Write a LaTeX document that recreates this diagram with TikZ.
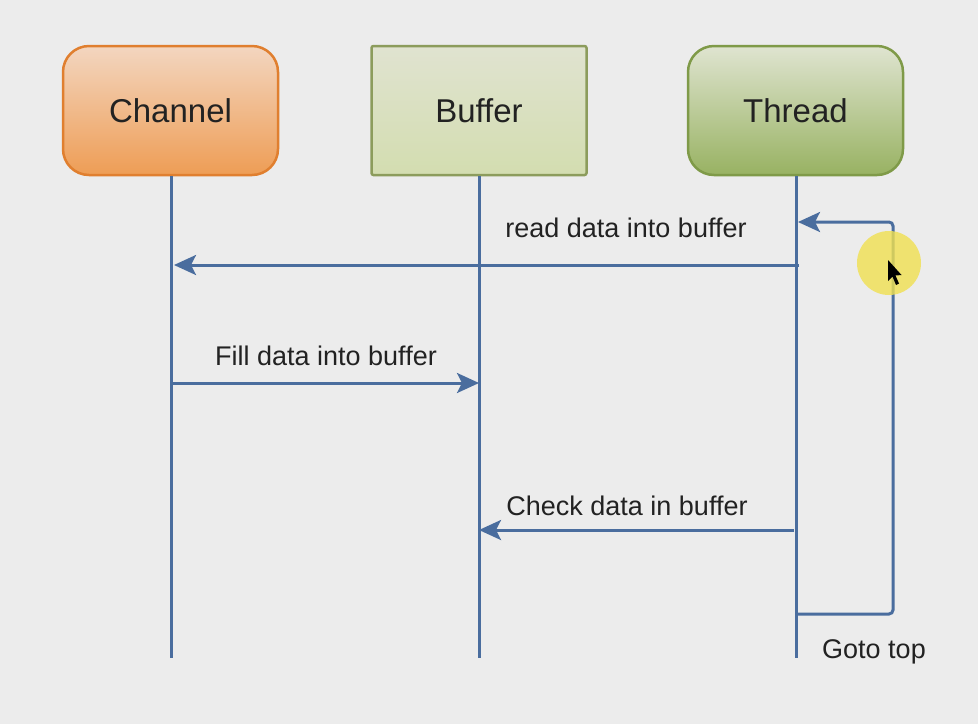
\documentclass[tikz,border=0pt]{standalone}
\usepackage{fontspec}
\setmainfont{Liberation Sans}
\usetikzlibrary{arrows.meta}

\definecolor{bg}{HTML}{ECECEC}
\definecolor{flow}{HTML}{4A6D9E}
\definecolor{txt}{HTML}{222222}
\definecolor{orangeTop}{HTML}{F3D6C0}
\definecolor{orangeBot}{HTML}{EE9D55}
\definecolor{orangeLine}{HTML}{E07F2F}
\definecolor{bufTop}{HTML}{E0E3D0}
\definecolor{bufBot}{HTML}{D3DDB0}
\definecolor{bufLine}{HTML}{8C9C5C}
\definecolor{thrTop}{HTML}{DFE4D0}
\definecolor{thrBot}{HTML}{98B262}
\definecolor{thrLine}{HTML}{7F9A48}
\definecolor{hilite}{HTML}{F0E050}

\tikzset{
  header/.style={minimum width=215pt, minimum height=129pt, line width=2.5pt,
    text=txt, font=\fontsize{33}{38}\selectfont, inner sep=0pt},
  lifeline/.style={draw=flow, line width=3pt},
  message/.style={draw=flow, line width=3pt,
    -{Stealth[length=22pt, width=20pt, inset=5pt]}},
  msglabel/.style={text=txt, font=\fontsize{27}{32}\selectfont, inner sep=0pt},
}

\begin{document}
\begin{tikzpicture}[x=1pt, y=-1pt]
  \fill[bg] (0,0) rectangle (978,724);
  \useasboundingbox (0,0) rectangle (978,724);

  % participant headers
  \node[header, rounded corners=26pt, draw=orangeLine, top color=orangeTop, bottom color=orangeBot]
    (channel) at (170.5,110.5) {Channel};
  \node[header, rounded corners=2pt, draw=bufLine, top color=bufTop, bottom color=bufBot]
    (buffer) at (479,110.5) {Buffer};
  \node[header, rounded corners=26pt, draw=thrLine, top color=thrTop, bottom color=thrBot]
    (thread) at (795.5,110.5) {Thread};

  % lifeline ends
  \coordinate (chEnd) at (171,658);
  \coordinate (bfEnd) at (479,658);
  \coordinate (thEnd) at (796,658);
  \draw[lifeline] (channel.south -| chEnd) -- (chEnd);
  \draw[lifeline] (buffer.south -| bfEnd) -- (bfEnd);
  \draw[lifeline] (thread.south -| thEnd) -- (thEnd);

  % message anchor points on the lifelines
  \coordinate (thRead) at (799,265);
  \coordinate (chRead) at (174,265);
  \coordinate (chFill) at (172,383);
  \coordinate (bfFill) at (479,383);
  \coordinate (thCheck) at (794,530);
  \coordinate (bfCheck) at (479,530);
  \coordinate (thLoopOut) at (796,614);
  \coordinate (loopRight) at (893,614);
  \coordinate (loopTop) at (893,222);
  \coordinate (thLoopIn) at (798,222);

  % messages
  \draw[message] (thRead) -- (chRead);
  \draw[message] (chFill) -- (bfFill);
  \draw[message] (thCheck) -- (bfCheck);
  \draw[message, rounded corners=4pt] (thLoopOut) -- (loopRight) -- (loopTop) -- (thLoopIn);

  % labels
  \node[msglabel] (lblRead) at (626,228) {read data into buffer};
  \node[msglabel] (lblFill) at (326,356) {Fill data into buffer};
  \node[msglabel] (lblCheck) at (627,506) {Check data in buffer};
  \node[msglabel] (lblGoto) at (874,652) {Goto top};

  % pointer highlight and cursor
  \fill[hilite, opacity=0.8] (889,263) circle (32pt);
  \fill[black] (888,260) -- (888,281) -- (892.5,276.5) -- (896,285) -- (899,283.5)
    -- (895.5,275.5) -- (901.5,275) -- cycle;
\end{tikzpicture}
\end{document}
